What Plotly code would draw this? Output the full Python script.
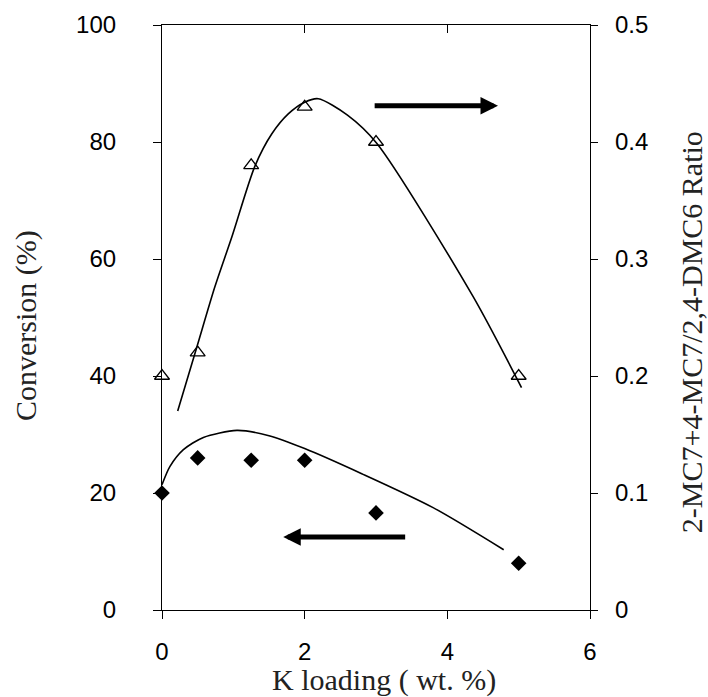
import plotly.graph_objects as go

# Data
k_loading = [0, 0.5, 1.25, 2, 3, 5]
conversion = [20.0, 26.0, 25.6, 25.6, 16.6, 8.0]
ratio = [0.20, 0.22, 0.38, 0.43, 0.40, 0.20]

# Trend curves
conv_curve_x = [0, 0.11, 0.30, 0.58, 1.05, 1.50, 2.00, 2.80, 3.80, 4.79]
conv_curve_y = [21.4, 24.5, 27.4, 29.5, 30.7, 29.8, 27.6, 23.3, 17.5, 10.3]
ratio_curve_x = [0.22, 0.49, 0.74, 0.98, 1.30, 1.54, 1.77, 2.00, 2.19, 2.60, 3.01, 4.36, 5.04]
ratio_curve_y = [0.170, 0.225, 0.276, 0.319, 0.379, 0.407, 0.424, 0.434, 0.437, 0.423,
                 0.399, 0.268, 0.190]

x_ticks = [0, 2, 4, 6]
y_ticks = [0, 20, 40, 60, 80, 100]
y2_ticks = [0, 0.1, 0.2, 0.3, 0.4, 0.5]

fig = go.Figure()

fig.add_trace(go.Scatter(x=conv_curve_x, y=conv_curve_y, mode="lines",
                         line=dict(color="black", width=1.6, shape="spline", smoothing=0.75),
                         showlegend=False, hoverinfo="skip"))
fig.add_trace(go.Scatter(x=k_loading, y=conversion, mode="markers",
                         marker=dict(symbol="diamond", size=12, color="black"),
                         cliponaxis=False, showlegend=False))
fig.add_trace(go.Scatter(x=ratio_curve_x, y=ratio_curve_y, mode="lines", yaxis="y2",
                         line=dict(color="black", width=1.6, shape="spline", smoothing=0.75),
                         showlegend=False, hoverinfo="skip"))
fig.add_trace(go.Scatter(x=k_loading, y=ratio, mode="markers", yaxis="y2",
                         marker=dict(symbol="triangle-up-open", size=13, color="black",
                                     line=dict(width=1.3, color="black")),
                         cliponaxis=False, showlegend=False))
# invisible trace for the top frame axis
fig.add_trace(go.Scatter(x=[0, 6], y=[0, 0], xaxis="x2", mode="markers",
                         marker=dict(opacity=0), showlegend=False, hoverinfo="skip"))

tick_font = dict(family="Liberation Sans, Arial, sans-serif", size=24, color="black")
title_font = dict(family="Liberation Serif, Times New Roman, serif", size=30, color="#222")

fig.update_layout(
    width=708, height=697,
    margin=dict(l=162, r=118, t=25, b=87),
    paper_bgcolor="white", plot_bgcolor="white",
    xaxis=dict(range=[0, 6], tickvals=x_ticks, ticks="outside", ticklen=8, tickwidth=1.2,
               tickcolor="black", showline=True, linecolor="black", linewidth=1.2,
               showgrid=False, zeroline=False, tickfont=tick_font, ticklabelstandoff=12),
    xaxis2=dict(range=[0, 6], overlaying="x", side="top", tickvals=x_ticks, ticks="inside",
                ticklen=8, tickwidth=1.2, tickcolor="black", showline=True, linecolor="black",
                linewidth=1.2, showticklabels=False, showgrid=False, zeroline=False),
    yaxis=dict(range=[0, 100], tickvals=y_ticks, ticks="outside", ticklen=8, tickwidth=1.2,
               tickcolor="black", showline=True, linecolor="black", linewidth=1.2,
               showgrid=False, zeroline=False, tickfont=tick_font, ticklabelstandoff=32),
    yaxis2=dict(range=[0, 0.5], tickvals=y2_ticks, overlaying="y", side="right",
                ticks="outside", ticklen=7, tickwidth=1.2, tickcolor="black", showline=True,
                linecolor="black", linewidth=1.2, showgrid=False, zeroline=False,
                tickfont=tick_font, ticklabelstandoff=12),
)

fig.add_annotation(xref="paper", yref="paper", x=-0.318, y=0.487, text="Conversion (%)",
                   textangle=-90, showarrow=False, font=title_font,
                   xanchor="center", yanchor="middle")
fig.add_annotation(xref="paper", yref="paper", x=1.236, y=0.475,
                   text="2-MC7+4-MC7/2,4-DMC6 Ratio",
                   textangle=-90, showarrow=False, font=title_font,
                   xanchor="center", yanchor="middle")
fig.add_annotation(xref="paper", yref="paper", x=0.519, y=-0.12, text="K loading ( wt. %)",
                   showarrow=False, font=title_font, xanchor="center", yanchor="middle")

# Arrows indicating which axis each series belongs to
fig.add_annotation(x=4.71, y=86.2, ax=2.96, ay=86.2, xref="x", yref="y", axref="x", ayref="y",
                   text="", showarrow=True, arrowhead=2, arrowsize=0.7, arrowwidth=5,
                   arrowcolor="black")
fig.add_annotation(x=1.70, y=12.5, ax=3.43, ay=12.5, xref="x", yref="y", axref="x", ayref="y",
                   text="", showarrow=True, arrowhead=2, arrowsize=0.7, arrowwidth=5,
                   arrowcolor="black")

fig.write_html("out.html")
